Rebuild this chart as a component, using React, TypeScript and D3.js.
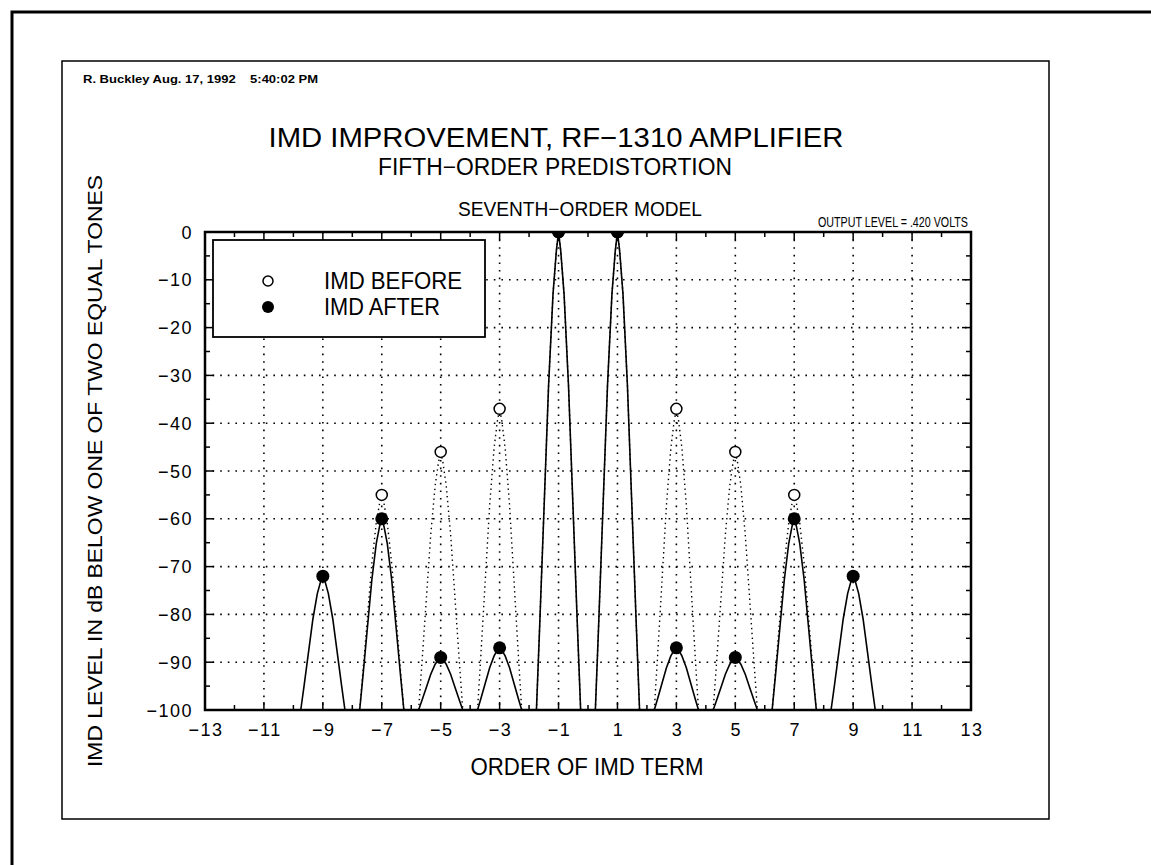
import React from 'react';
import * as d3 from 'd3';

// IMD terms (odd orders) and levels in dB
const beforeOrders = [-7, -5, -3, -1, 1, 3, 5, 7];
const beforeLevels = [-55, -46, -37, 0, 0, -37, -46, -55];
const afterOrders = [-9, -7, -5, -3, -1, 1, 3, 5, 7, 9];
const afterLevels = [-72, -60, -89, -87, 0, 0, -87, -89, -60, -72];

// lobe profile around each term: fraction of half width vs fraction of drop to floor
const lobeT = [0, 0.1, 0.25, 0.45, 0.65, 0.85, 1];
const lobeF = [0, 0.04, 0.13, 0.32, 0.57, 0.82, 1];
const lobeHalfWidth = 0.75;
const floorDb = -100;

const xTickLabels = [-13, -11, -9, -7, -5, -3, -1, 1, 3, 5, 7, 9, 11, 13];
const yTickLabels = [0, -10, -20, -30, -40, -50, -60, -70, -80, -90, -100];

const W = 1151;
const H = 865;
const plot = { left: 205, right: 971, top: 232, bottom: 710 };
const FONT = '"Liberation Sans", Arial, sans-serif';

export default function App() {
  const x = d3.scaleLinear().domain([-13, 13]).range([plot.left, plot.right]);
  const y = d3.scaleLinear().domain([-100, 0]).range([plot.bottom, plot.top]);

  const line = d3.line<[number, number]>()
    .x(d => x(d[0]))
    .y(d => y(d[1]));

  function lobe(order: number, level: number): string {
    const left = lobeT.slice().reverse().map((t, i) => {
      const f = lobeF[lobeT.length - 1 - i];
      return [order - t * lobeHalfWidth, level + (floorDb - level) * f] as [number, number];
    });
    const right = lobeT.slice(1).map((t, i) => {
      const f = lobeF[i + 1];
      return [order + t * lobeHalfWidth, level + (floorDb - level) * f] as [number, number];
    });
    return line(left.concat(right)) || '';
  }

  const xUnits = d3.range(-13, 14);
  const yFives = d3.range(-100, 1, 5);
  const gridX = d3.range(-11, 12, 2);
  const gridY = d3.range(-90, 0, 10);

  return (
    <svg width={W} height={H} style={{ position: 'absolute', left: 0, top: 0, background: '#fff' }}
      fontFamily={FONT}>
      <defs>
        <clipPath id="plotclip">
          <rect x={plot.left} y={plot.top} width={plot.right - plot.left} height={plot.bottom - plot.top} />
        </clipPath>
      </defs>
      <rect x={0} y={0} width={W} height={H} fill="#fff" />

      {/* outer and inner frames */}
      <path d={`M12,${H} L12,12 L${W},12`} fill="none" stroke="#000" strokeWidth={3} />
      <rect x={62} y={61} width={987} height={758} fill="none" stroke="#000" strokeWidth={1.5} />

      <text x={83} y={83} fontSize={10.5} fontWeight="bold" textLength={235} lengthAdjust="spacingAndGlyphs">
        R. Buckley Aug. 17, 1992{'\u00a0\u00a0\u00a0\u00a0'}5:40:02 PM
      </text>

      {/* titles */}
      <text x={556} y={147} fontSize={27} textAnchor="middle" textLength={575} lengthAdjust="spacingAndGlyphs">
        IMD IMPROVEMENT, RF−1310 AMPLIFIER
      </text>
      <text x={555} y={175} fontSize={23} textAnchor="middle" textLength={354} lengthAdjust="spacingAndGlyphs">
        FIFTH−ORDER PREDISTORTION
      </text>
      <text x={580} y={216} fontSize={20} textAnchor="middle" textLength={244} lengthAdjust="spacingAndGlyphs">
        SEVENTH−ORDER MODEL
      </text>
      <text x={968} y={227} fontSize={14} textAnchor="end" textLength={150} lengthAdjust="spacingAndGlyphs">
        OUTPUT LEVEL = .420 VOLTS
      </text>

      {/* grid */}
      <g stroke="#000" strokeWidth={1.6} strokeDasharray="1.6,6" fill="none">
        {gridX.map(v => (
          <line key={'gx' + v} x1={x(v)} x2={x(v)} y1={plot.top} y2={plot.bottom} />
        ))}
        {gridY.map(v => (
          <line key={'gy' + v} x1={plot.left} x2={plot.right} y1={y(v)} y2={y(v)} />
        ))}
      </g>

      {/* IMD before lobes, dotted */}
      <g clipPath="url(#plotclip)" fill="none" stroke="#000" strokeWidth={1.4} strokeDasharray="1.4,3.5">
        {beforeOrders.map((o, i) => (
          <path key={'bl' + o} d={lobe(o, beforeLevels[i])} />
        ))}
      </g>
      {/* IMD after lobes, solid */}
      <g clipPath="url(#plotclip)" fill="none" stroke="#000" strokeWidth={1.6}>
        {afterOrders.map((o, i) => (
          <path key={'al' + o} d={lobe(o, afterLevels[i])} />
        ))}
      </g>

      {/* markers */}
      <g clipPath="url(#plotclip)">
        {beforeOrders.map((o, i) => (
          <circle key={'bm' + o} cx={x(o)} cy={y(beforeLevels[i])} r={5.5} fill="#fff" stroke="#000" strokeWidth={1.5} />
        ))}
        {afterOrders.map((o, i) => (
          <circle key={'am' + o} cx={x(o)} cy={y(afterLevels[i])} r={6.5} fill="#000" />
        ))}
      </g>

      {/* ticks, inward */}
      <g stroke="#000" strokeWidth={1.5}>
        {xUnits.map(v => {
          const len = Math.abs(v) % 2 === 1 ? 8 : 5;
          return (
            <g key={'xt' + v}>
              <line x1={x(v)} x2={x(v)} y1={plot.bottom} y2={plot.bottom - len} />
              <line x1={x(v)} x2={x(v)} y1={plot.top} y2={plot.top + len} />
            </g>
          );
        })}
        {yFives.map(v => {
          const len = v % 10 === 0 ? 9 : 5;
          return (
            <g key={'yt' + v}>
              <line x1={plot.left} x2={plot.left + len} y1={y(v)} y2={y(v)} />
              <line x1={plot.right} x2={plot.right - len} y1={y(v)} y2={y(v)} />
            </g>
          );
        })}
      </g>
      <rect x={plot.left} y={plot.top} width={plot.right - plot.left} height={plot.bottom - plot.top}
        fill="none" stroke="#000" strokeWidth={2.5} />

      {/* legend */}
      <rect x={213} y={240} width={272} height={97} fill="#fff" stroke="#000" strokeWidth={1.8} />
      <circle cx={268} cy={281} r={5} fill="#fff" stroke="#000" strokeWidth={1.5} />
      <circle cx={268} cy={307} r={6} fill="#000" />
      <text x={324} y={289} fontSize={24} textLength={138} lengthAdjust="spacingAndGlyphs">IMD BEFORE</text>
      <text x={324} y={315} fontSize={24} textLength={116} lengthAdjust="spacingAndGlyphs">IMD AFTER</text>

      {/* tick labels */}
      <g fontSize={18} letterSpacing={1.5}>
        {yTickLabels.map(v => (
          <text key={'yl' + v} x={193} y={y(v) + 6.5} textAnchor="end">
            {v < 0 ? '−' + Math.abs(v) : String(v)}
          </text>
        ))}
        {xTickLabels.map(v => (
          <text key={'xl' + v} x={x(v) + 1} y={736} textAnchor="middle">
            {v < 0 ? '−' + Math.abs(v) : String(v)}
          </text>
        ))}
      </g>

      {/* axis titles */}
      <text x={587} y={775} fontSize={24} textAnchor="middle" textLength={233} lengthAdjust="spacingAndGlyphs">
        ORDER OF IMD TERM
      </text>
      <text transform={`translate(102,471) rotate(-90)`} fontSize={21} textAnchor="middle"
        textLength={592} lengthAdjust="spacingAndGlyphs">
        IMD LEVEL IN dB BELOW ONE OF TWO EQUAL TONES
      </text>
    </svg>
  );
}
